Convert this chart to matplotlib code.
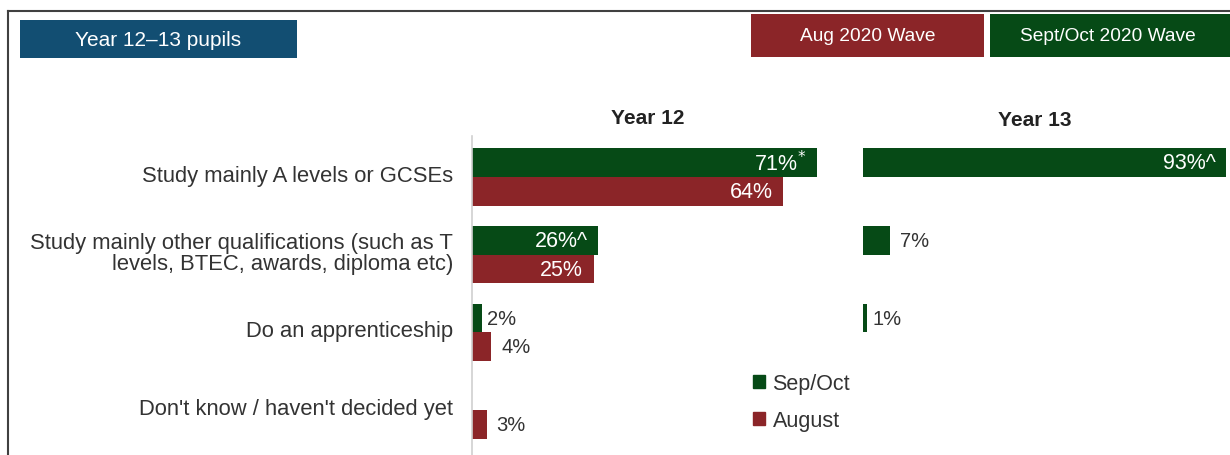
import numpy as np
import matplotlib.pyplot as plt
from matplotlib.patches import Rectangle, Patch
from matplotlib.lines import Line2D

plt.rcParams['font.family'] = ['Liberation Sans', 'DejaVu Sans']

categories = ['Study mainly A levels or GCSEs',
              'Study mainly other qualifications (such as T\nlevels, BTEC, awards, diploma etc)',
              'Do an apprenticeship',
              "Don't know / haven't decided yet"]
y12_sep = [71, 26, 2, 0]
y12_aug = [64, 25, 4, 3]
y12_sep_flag = ['*', '^', '', '']
y13_sep = [93, 7, 1, 0]
y13_sep_flag = ['^', '', '', '']

green = '#064a16'
red = '#8b2528'
blue = '#124e72'
txt = '#333333'

W, H = 1230, 456
fig = plt.figure(figsize=(W / 100, H / 100), dpi=100)

def px(x0, y0, w, h):
    # pixel box (top-left origin) -> figure fraction
    return [x0 / W, 1 - (y0 + h) / H, w / W, h / H]

ax1 = fig.add_axes(px(472, 137, 389, 319))
ax2 = fig.add_axes(px(863, 137, 365, 319))
ax1.set_xlim(0, 80)
ax2.set_xlim(0, 93.5)

bh = 0.37
y = np.arange(len(categories))

# significance markers
marks = {'*': r'$^{*}$', '^': '^', '': ''}

def draw_bars(ax, vals, flags, color, offset):
    bars = ax.barh(y + offset, vals, height=bh, color=color)
    for b, v, f in zip(bars, vals, flags):
        if v <= 0:
            continue
        yc = b.get_y() + b.get_height() / 2
        if v >= 20:
            ax.annotate(f'{v}%' + marks[f], (v, yc),
                        xytext=(-7.5, 0), textcoords='offset points',
                        ha='right', va='center', color='white', fontsize=15.5)
        else:
            ax.annotate(f'{v}%' + marks[f], (v, yc), xytext=(4 if v < 3 else 7, 0),
                        textcoords='offset points', ha='left', va='center',
                        color=txt, fontsize=14.5)

draw_bars(ax1, y12_sep, y12_sep_flag, green, -bh / 2)
draw_bars(ax1, y12_aug, ['', '', '', ''], red, bh / 2)
draw_bars(ax2, y13_sep, y13_sep_flag, green, -bh / 2)

for ax in (ax1, ax2):
    ax.set_ylim(3.578, -0.528)
    ax.set_xticks([])
    ax.set_yticks([])
    for s in ax.spines.values():
        s.set_visible(False)
ax1.spines['left'].set_visible(True)
ax1.spines['left'].set_color('#d0d0d0')
ax1.spines['left'].set_linewidth(1.2)

for i, c in enumerate(categories):
    ax1.text(-0.049, i - 0.02, c, transform=ax1.get_yaxis_transform(), ha='right',
             va='center', multialignment='right', fontsize=15.8, color=txt,
             linespacing=1.03)

fig.text(648 / W, 1 - 119 / H, 'Year 12', ha='center', va='center', fontsize=15,
         fontweight='bold', color='#222222')
fig.text(1035 / W, 1 - 120.5 / H, 'Year 13', ha='center', va='center', fontsize=15,
         fontweight='bold', color='#222222')

ax1.legend(handles=[Patch(color=green), Patch(color=red)], labels=['Sep/Oct', 'August'],
           loc='center left', bbox_to_anchor=(734 / W, 1 - 403 / H),
           bbox_transform=fig.transFigure, frameon=False, fontsize=15.5,
           handlelength=0.56, handleheight=0.56, handletextpad=0.33,
           labelspacing=0.72, labelcolor=txt)

# header boxes
for (x0, y0, w, h), col, label, fs in [((20, 21, 277, 38), blue, 'Year 12\u201313 pupils', 15),
                                       ((751, 15, 233, 43), red, 'Aug 2020 Wave', 13.8),
                                       ((990, 15, 245, 43), green, 'Sept/Oct 2020 Wave', 13.8)]:
    r = px(x0, y0, w, h)
    fig.patches.append(Rectangle((r[0], r[1]), r[2], r[3], transform=fig.transFigure,
                                 facecolor=col, edgecolor='none'))
    cx = (x0 + w / 2) / W if x0 != 990 else (990 + 118) / W
    fig.text(cx, r[1] + r[3] / 2, label, ha='center', va='center',
             color='white', fontsize=fs)

# outer frame
fig.add_artist(Line2D([8 / W, 8 / W], [0, 1 - 11.5 / H], transform=fig.transFigure,
                      color='#404040', lw=1.5))
fig.add_artist(Line2D([8 / W, 1], [1 - 11.5 / H, 1 - 11.5 / H], transform=fig.transFigure,
                      color='#404040', lw=1.5))

fig.savefig('out.png', dpi=100)
